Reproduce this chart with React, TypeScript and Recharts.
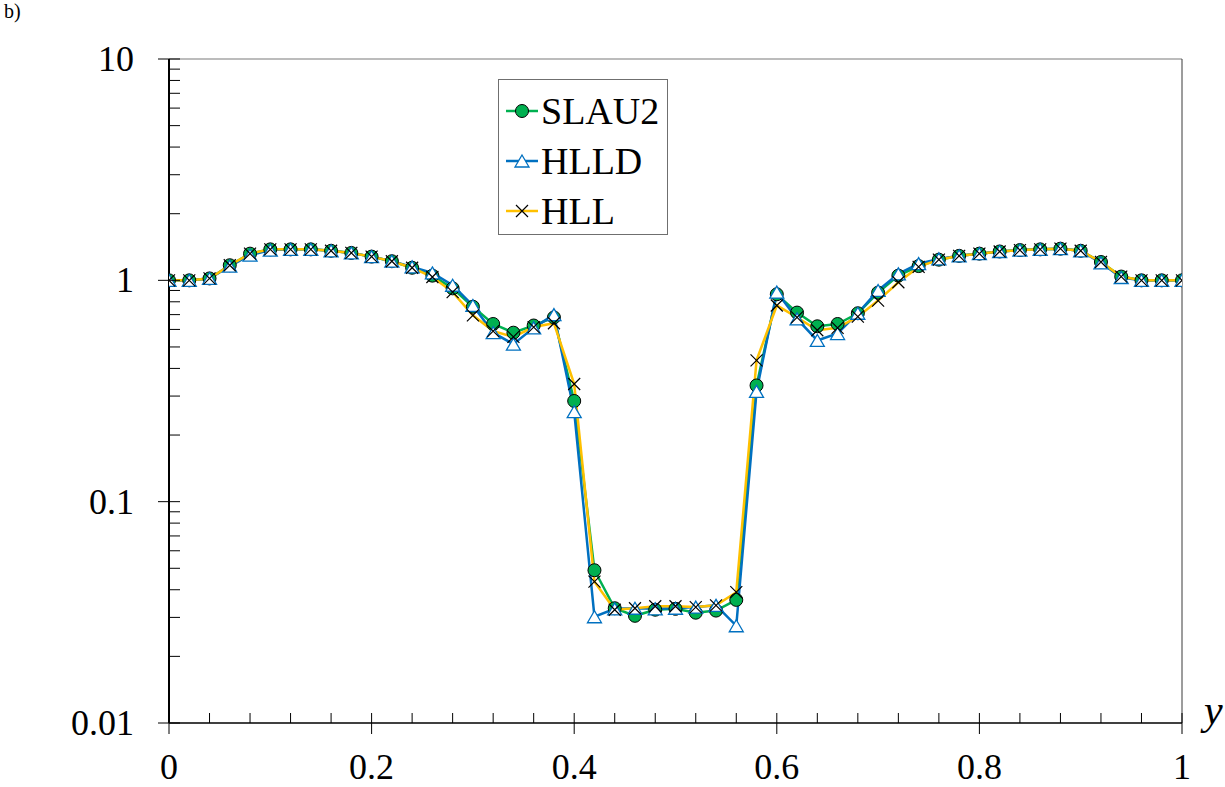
import { LineChart, Line, XAxis, YAxis, Legend, ReferenceLine, Customized } from 'recharts';

const xValues = [
  0, 0.02, 0.04, 0.06, 0.08, 0.1, 0.12, 0.14, 0.16, 0.18,
  0.2, 0.22, 0.24, 0.26, 0.28, 0.3, 0.32, 0.34, 0.36, 0.38,
  0.4, 0.42, 0.44, 0.46, 0.48, 0.5, 0.52, 0.54, 0.56, 0.58,
  0.6, 0.62, 0.64, 0.66, 0.68, 0.7, 0.72, 0.74, 0.76, 0.78,
  0.8, 0.82, 0.84, 0.86, 0.88, 0.9, 0.92, 0.94, 0.96, 0.98, 1,
];

const slau2 = [
  1.0, 1.0, 1.02, 1.17, 1.32, 1.38, 1.38, 1.38, 1.36, 1.33,
  1.28, 1.22, 1.14, 1.05, 0.92, 0.76, 0.635, 0.58, 0.625, 0.68,
  0.285, 0.049, 0.033, 0.0305, 0.0325, 0.0328, 0.0315, 0.0322, 0.036, 0.335,
  0.865, 0.715, 0.62, 0.635, 0.71, 0.88, 1.05, 1.16, 1.24, 1.29,
  1.32, 1.35, 1.37, 1.38, 1.39, 1.36, 1.21, 1.04, 1.0, 1.0, 1.0,
];

const hlld = [
  1.0, 1.0, 1.02, 1.16, 1.3, 1.37, 1.38, 1.38, 1.36, 1.33,
  1.28, 1.22, 1.15, 1.08, 0.95, 0.77, 0.58, 0.515, 0.61, 0.7,
  0.255, 0.0302, 0.0328, 0.033, 0.0328, 0.033, 0.0334, 0.034, 0.0275, 0.315,
  0.885, 0.67, 0.535, 0.575, 0.71, 0.9, 1.07, 1.19, 1.25, 1.29,
  1.32, 1.35, 1.37, 1.38, 1.39, 1.36, 1.2, 1.03, 1.0, 1.0, 1.0,
];

const hll = [
  1.0, 1.0, 1.02, 1.17, 1.32, 1.38, 1.38, 1.38, 1.36, 1.33,
  1.28, 1.22, 1.14, 1.035, 0.885, 0.695, 0.59, 0.555, 0.615, 0.64,
  0.34, 0.0435, 0.0325, 0.033, 0.0337, 0.0337, 0.0334, 0.034, 0.039, 0.435,
  0.77, 0.68, 0.595, 0.61, 0.685, 0.81, 0.98, 1.15, 1.24, 1.29,
  1.32, 1.35, 1.37, 1.38, 1.39, 1.36, 1.21, 1.04, 1.0, 1.0, 1.0,
];

const xTicks = [
  0, 0.04, 0.08, 0.12, 0.16, 0.2, 0.24, 0.28, 0.32, 0.36, 0.4, 0.44, 0.48,
  0.52, 0.56, 0.6, 0.64, 0.68, 0.72, 0.76, 0.8, 0.84, 0.88, 0.92, 0.96, 1,
];
const xLabels = [0, 0.2, 0.4, 0.6, 0.8, 1];

const yTicks = [
  0.01, 0.02, 0.03, 0.04, 0.05, 0.06, 0.07, 0.08, 0.09,
  0.1, 0.2, 0.3, 0.4, 0.5, 0.6, 0.7, 0.8, 0.9,
  1, 2, 3, 4, 5, 6, 7, 8, 9, 10,
];
const yLabels = [0.01, 0.1, 1, 10];

const GREEN = '#00B050';
const BLUE = '#0070C0';
const YELLOW = '#FFC000';
const FONT = 'Liberation Serif, Tinos, Times New Roman, serif';

const data = xValues.map((x, i) => ({ x, slau2: slau2[i], hlld: hlld[i], hll: hll[i] }));

const isLabel = (list: number[], v: number) => list.some(l => Math.abs(l - v) < 1e-9);

function XTick({ x, y, payload }: any) {
  const major = isLabel(xLabels, payload.value);
  return (
    <g>
      <line x1={x} x2={x} y1={y - 10} y2={major ? y + 11 : y} stroke="#000" strokeWidth={1} />
      {major && (
        <text x={x} y={y + 56} textAnchor="middle" fontSize={36} style={{ fontFamily: FONT }} fill="#000">
          {String(payload.value)}
        </text>
      )}
    </g>
  );
}

function YTick({ x, y, payload }: any) {
  const major = isLabel(yLabels, payload.value);
  return (
    <g>
      <line x1={major ? x - 11 : x} x2={x + 11} y1={y} y2={y} stroke="#000" strokeWidth={1} />
      {major && (
        <text x={x - 35} y={y + 12} textAnchor="end" fontSize={36} style={{ fontFamily: FONT }} fill="#000">
          {String(payload.value)}
        </text>
      )}
    </g>
  );
}

function CircleDot({ cx, cy }: any) {
  if (cx == null || cy == null) return null;
  return <circle cx={cx} cy={cy} r={6.5} fill={GREEN} stroke="#000" strokeWidth={1} />;
}

function TriangleDot({ cx, cy }: any) {
  if (cx == null || cy == null) return null;
  const w = 7, h = 12;
  return (
    <path
      d={`M${cx},${cy - h / 2} L${cx + w},${cy + h / 2} L${cx - w},${cy + h / 2} Z`}
      fill="#fff"
      stroke={BLUE}
      strokeWidth={1.3}
    />
  );
}

function CrossDot({ cx, cy }: any) {
  if (cx == null || cy == null) return null;
  const s = 6;
  return (
    <path
      d={`M${cx - s},${cy - s} L${cx + s},${cy + s} M${cx - s},${cy + s} L${cx + s},${cy - s}`}
      stroke="#000"
      strokeWidth={1.2}
      fill="none"
    />
  );
}

const legendItems = [
  { name: 'SLAU2', color: GREEN, marker: 'circle' },
  { name: 'HLLD', color: BLUE, marker: 'triangle' },
  { name: 'HLL', color: YELLOW, marker: 'cross' },
];

function LegendBox() {
  return (
    <div
      style={{
        width: 170,
        height: 156,
        border: '1px solid #6f6f6f',
        boxSizing: 'border-box',
        background: '#fff',
        paddingTop: 6,
        fontFamily: FONT,
      }}
    >
      {legendItems.map(item => (
        <div key={item.name} style={{ display: 'flex', alignItems: 'center', height: 50 }}>
          <svg width={42} height={30} style={{ flex: 'none' }}>
            <line x1={7} x2={39} y1={15} y2={15} stroke={item.color} strokeWidth={2.5} />
            {item.marker === 'circle' && <CircleDot cx={23} cy={15} />}
            {item.marker === 'triangle' && <TriangleDot cx={23} cy={15} />}
            {item.marker === 'cross' && <CrossDot cx={23} cy={15} />}
          </svg>
          <span style={{ fontFamily: FONT, fontSize: 38, lineHeight: '38px', color: '#000' }}>{item.name}</span>
        </div>
      ))}
    </div>
  );
}

function ExtraText() {
  return (
    <g>
      <text x={4} y={18} fontSize={20} style={{ fontFamily: FONT }} fill="#000">b)</text>
      <text x={1204} y={724} fontSize={42} fontStyle="italic" style={{ fontFamily: FONT }} fill="#000">y</text>
    </g>
  );
}

export default function App() {
  return (
    <div style={{ position: 'absolute', left: 0, top: 0, width: 1225, height: 787, background: '#fff', fontFamily: FONT }}>
      <LineChart
        width={1225}
        height={787}
        data={data}
        margin={{ top: 59, right: 43, bottom: 34, left: 109 }}
        style={{ fontFamily: FONT }}
      >
        <XAxis
          dataKey="x"
          type="number"
          domain={[0, 1]}
          ticks={xTicks}
          interval={0}
          tick={<XTick />}
          tickLine={false}
          tickSize={0}
          tickMargin={0}
          height={30}
          axisLine={{ stroke: '#000', strokeWidth: 1.5 }}
          allowDataOverflow
        />
        <YAxis
          type="number"
          scale="log"
          domain={[0.01, 10]}
          ticks={yTicks}
          interval={0}
          tick={<YTick />}
          tickLine={false}
          tickSize={0}
          tickMargin={0}
          width={60}
          axisLine={{ stroke: '#000', strokeWidth: 2 }}
          allowDataOverflow
        />
        <ReferenceLine y={10} stroke="#7a7a7a" strokeWidth={1.2} />
        <ReferenceLine x={1} stroke="#3a3a3a" strokeWidth={1} />
        <Line
          dataKey="slau2"
          name="SLAU2"
          type="linear"
          stroke={GREEN}
          strokeWidth={2.5}
          dot={<CircleDot />}
          activeDot={false}
          isAnimationActive={false}
        />
        <Line
          dataKey="hlld"
          name="HLLD"
          type="linear"
          stroke={BLUE}
          strokeWidth={2.5}
          dot={<TriangleDot />}
          activeDot={false}
          isAnimationActive={false}
        />
        <Line
          dataKey="hll"
          name="HLL"
          type="linear"
          stroke={YELLOW}
          strokeWidth={2.5}
          dot={<CrossDot />}
          activeDot={false}
          isAnimationActive={false}
        />
        <Legend
          layout="vertical"
          align="center"
          verticalAlign="middle"
          content={() => <LegendBox />}
          wrapperStyle={{ left: 498, top: 79, width: 170, height: 156 }}
        />
        <Customized component={<ExtraText />} />
      </LineChart>
    </div>
  );
}
